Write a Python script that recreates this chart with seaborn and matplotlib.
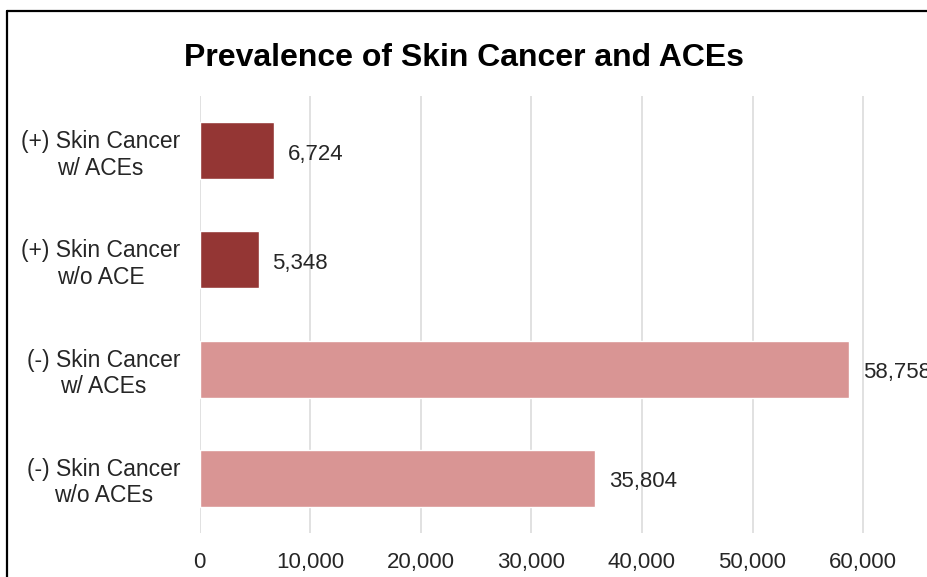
import matplotlib
matplotlib.use("Agg")
import matplotlib.pyplot as plt
import seaborn as sns
from matplotlib.lines import Line2D

categories = ["(+) Skin Cancer\nw/ ACEs", "(+) Skin Cancer\nw/o ACE",
              "(-) Skin Cancer\nw/ ACEs", "(-) Skin Cancer\nw/o ACEs"]
values = [6724, 5348, 58758, 35804]
bar_colors = ["#943634", "#943634", "#d99594", "#d99594"]
xticks = [0, 10000, 20000, 30000, 40000, 50000, 60000]
xtick_labels = ["0", "10,000", "20,000", "30,000", "40,000", "50,000", "60,000"]
title = "Prevalence of Skin Cancer and ACEs"

sns.set_theme(style="white")
plt.rcParams["font.family"] = ["Liberation Sans", "DejaVu Sans"]

W, H = 927, 577
fig = plt.figure(figsize=(W / 100, H / 100), dpi=100)
fig.patch.set_facecolor("white")
ax_left, ax_top, ax_bottom = 199.5, 96, 533
ax = fig.add_axes([ax_left / W, 1 - ax_bottom / H, 1 - ax_left / W, (ax_bottom - ax_top) / H])

sns.barplot(x=values, y=categories, hue=categories, palette=bar_colors,
            legend=False, width=0.52, orient="h", ax=ax, saturation=1)

ax.set_xlim(0, (W - ax_left) / 0.01106)
ax.set_ylim(3.5, -0.5)
ax.set_xticks(xticks)
ax.set_xticklabels(xtick_labels)
ax.grid(axis="x", color="#d9d9d9", linewidth=1.1)
ax.grid(axis="y", visible=False)
ax.set_axisbelow(True)
for s in ax.spines.values():
    s.set_visible(False)
ax.tick_params(axis="x", length=0, pad=14, labelsize=16, labelcolor="#262626")
ax.tick_params(axis="y", length=0, pad=14, labelsize=16.5, labelcolor="#262626")
for lbl in ax.get_yticklabels():
    lbl.set_multialignment("center")
    lbl.set_linespacing(1.2)
ax.set_xlabel("")
ax.set_ylabel("")

for i, v in enumerate(values):
    ax.annotate(f"{v:,}", xy=(v, i), xytext=(10, -2.5), textcoords="offset points",
                ha="left", va="center", fontsize=16, color="#262626",
                annotation_clip=False)

fig.text(0.5, 1 - 58 / H, title, ha="center", va="center", fontsize=23,
         fontweight="bold", color="#000000")

# outer frame (left and top edges visible in the crop)
fig.add_artist(Line2D([7.5 / W, 7.5 / W], [0, 1 - 10.5 / H], transform=fig.transFigure,
                      color="black", linewidth=1.6))
fig.add_artist(Line2D([7.5 / W, 1.0], [1 - 10.5 / H, 1 - 10.5 / H], transform=fig.transFigure,
                      color="black", linewidth=1.6))

fig.savefig("out.png", dpi=100)
